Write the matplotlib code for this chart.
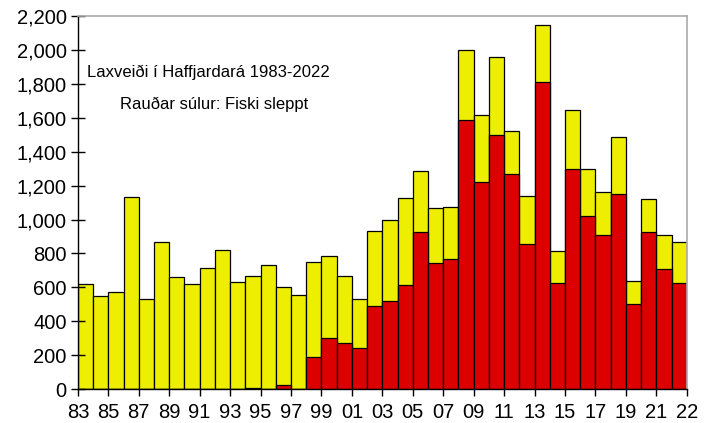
import matplotlib
matplotlib.use("Agg")
import matplotlib.pyplot as plt
from matplotlib.ticker import FuncFormatter
import numpy as np

plt.rcParams['font.family'] = ['Liberation Sans', 'DejaVu Sans']

years = list(range(1983, 2023))
total = [620, 550, 575, 1135, 530, 870, 660, 620, 715, 820,
         630, 665, 730, 600, 555, 750, 785, 670, 530, 935,
         1000, 1130, 1285, 1070, 1075, 2000, 1615, 1960, 1520, 1140,
         2150, 815, 1645, 1300, 1160, 1485, 640, 1120, 910, 865]
released = [0, 0, 0, 0, 0, 0, 0, 0, 0, 0,
            0, 4, 0, 25, 0, 190, 300, 275, 245, 490,
            520, 615, 925, 745, 765, 1590, 1220, 1500, 1270, 855,
            1810, 625, 1300, 1020, 910, 1150, 505, 925, 710, 625]
tick_labels = ['83', '85', '87', '89', '91', '93', '95', '97', '99', '01',
               '03', '05', '07', '09', '11', '13', '15', '17', '19', '21', '22']

yellow = '#EEEE00'
red = '#DD0000'

fig = plt.figure(figsize=(7.08, 4.23), dpi=100)
ax = fig.add_axes([0.110, 0.080, 0.860, 0.882])

x = np.arange(len(years)) + 0.5
ax.bar(x, total, width=1.0, color=yellow, edgecolor='black', linewidth=0.9)
ax.bar(x, released, width=1.0, color=red, edgecolor='black', linewidth=0.9)

ax.set_xlim(0, len(years))
ax.set_ylim(0, 2200)
ax.set_yticks(np.arange(0, 2201, 200))
ax.yaxis.set_major_formatter(FuncFormatter(lambda v, p: f"{int(v):,}"))
ax.set_xticks(np.arange(0, len(years) + 1, 2))
ax.set_xticklabels(tick_labels)

ax.tick_params(axis='y', direction='inout', length=10, width=1, labelsize=14.5, pad=3)
ax.tick_params(axis='x', direction='out', length=5, width=1, labelsize=14.5, pad=5)

for s in ['left', 'bottom']:
    ax.spines[s].set_color('black')
    ax.spines[s].set_linewidth(1.0)
for s in ['top', 'right']:
    ax.spines[s].set_color('#AAAAAA')
    ax.spines[s].set_linewidth(1.2)

ax.text(0.215, 0.850, 'Laxveiði í Haffjardará 1983-2022', transform=ax.transAxes,
        ha='center', va='center', fontsize=12)
ax.text(0.223, 0.764, 'Rauðar súlur: Fiski sleppt', transform=ax.transAxes,
        ha='center', va='center', fontsize=12)

fig.savefig('out.png', dpi=100)
